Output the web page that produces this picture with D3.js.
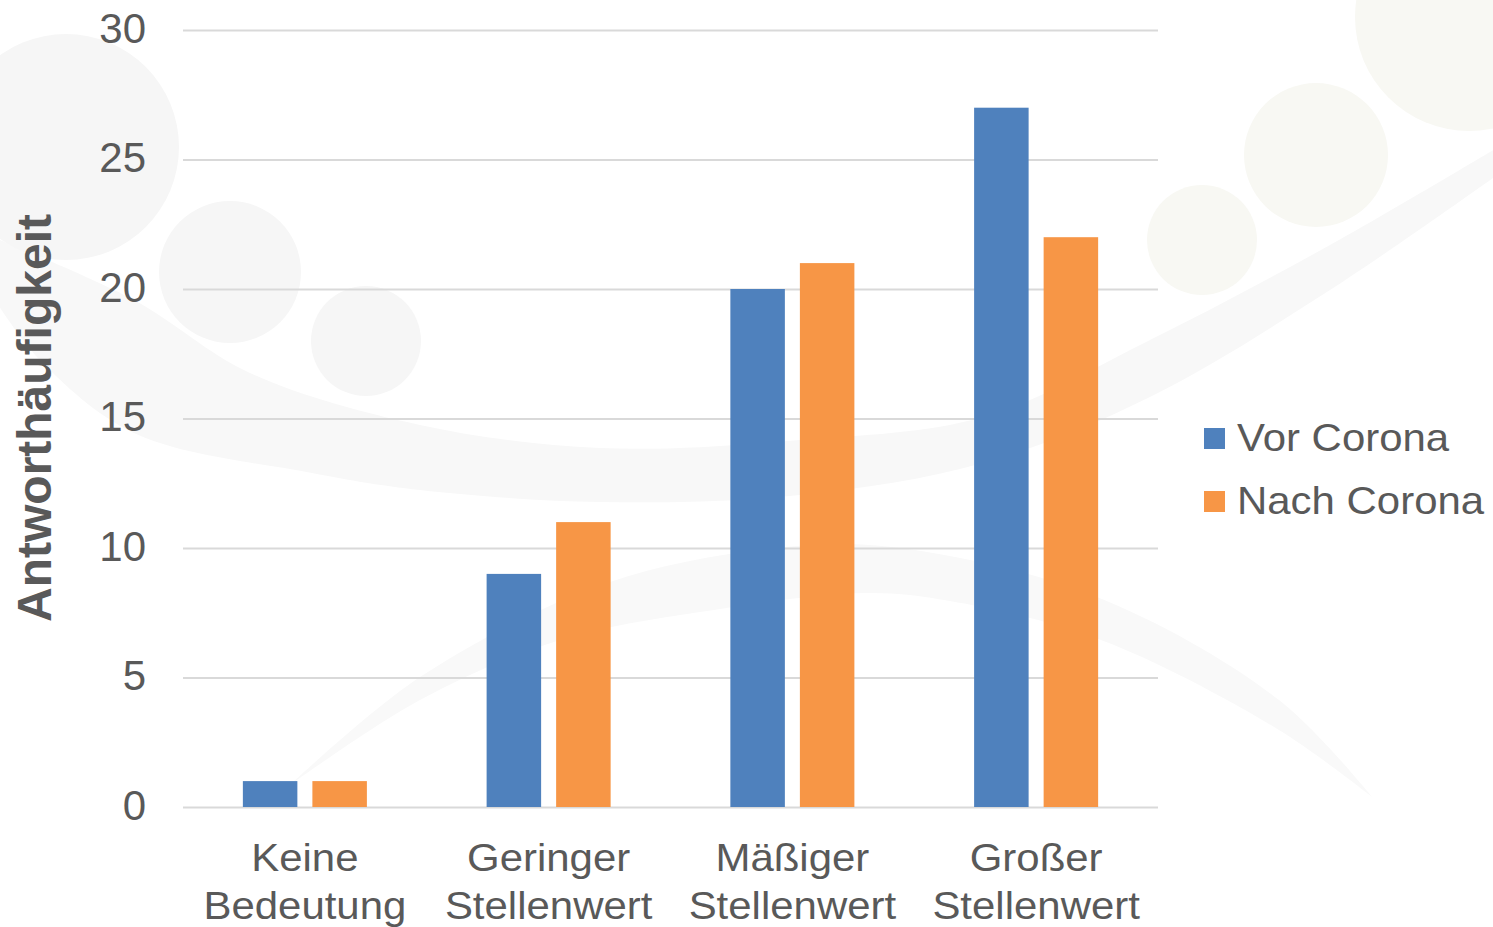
<!DOCTYPE html>
<html>
<head>
<meta charset="utf-8">
<script src="https://cdn.jsdelivr.net/npm/d3@7"></script>
<style>
  html, body { margin: 0; padding: 0; background: #ffffff; }
  svg { display: block; }
  text { font-family: "Liberation Sans", Arial, sans-serif; fill: #595959; }
</style>
</head>
<body>
<svg id="chart" width="1493" height="927"></svg>
<script>
// ---- Data ----
const categories = [["Keine", "Bedeutung"], ["Geringer", "Stellenwert"], ["Mäßiger", "Stellenwert"], ["Großer", "Stellenwert"]];
const seriesNames = ["Vor Corona", "Nach Corona"];
const vorCorona  = [1, 9, 20, 27];
const nachCorona = [1, 11, 21, 22];
const yTicks = [0, 5, 10, 15, 20, 25, 30];
const yTitle = "Antworthäufigkeit";
const colors = ["#4f81bd", "#f79646"];

// ---- Decorative background (watermark) ----
const decoCirclesGray = [[66, 147, 113], [230, 272, 71], [366, 341, 55]];
const decoCirclesGreen = [[1469, 17, 114], [1316, 155, 72], [1202, 240, 55]];
const swoosh1Upper = [[-5, 238], [134, 300], [250, 373], [420, 425], [600, 448], [800, 440], [983, 417], [1150, 340], [1330, 245], [1500, 146]];
const swoosh1Lower = [[1500, 173], [1330, 290], [1150, 397], [983, 463], [800, 495], [600, 502], [420, 490], [312, 473], [134, 433], [40, 360], [-5, 300]];
const swoosh2Outer = [[290, 785], [420, 677], [607, 583], [786, 547], [900, 548], [1097, 597], [1279, 700], [1372, 797]];
const swoosh2Inner = [[1372, 797], [1279, 730], [1101, 640], [950, 601], [866, 593], [700, 612], [560, 640], [420, 700], [290, 785]];

const svg = d3.select("#chart");
const W = 1493, H = 927;
const plot = { left: 183, right: 1158, top: 30, bottom: 807 };

const deco = svg.append("g").attr("class", "deco");
const curve = d3.line().curve(d3.curveCatmullRom.alpha(0.5));
deco.append("path")
  .attr("d", curve(swoosh1Upper) + "L" + curve(swoosh1Lower).slice(1) + "Z")
  .attr("fill", "#f8f8f8");
deco.append("path")
  .attr("d", curve(swoosh2Outer) + "L" + curve(swoosh2Inner).slice(1) + "Z")
  .attr("fill", "#f9f9f9");
deco.selectAll("circle.g").data(decoCirclesGray).join("circle")
  .attr("cx", d => d[0]).attr("cy", d => d[1]).attr("r", d => d[2])
  .attr("fill", "#f6f6f6");
deco.selectAll("circle.gr").data(decoCirclesGreen).join("circle")
  .attr("cx", d => d[0]).attr("cy", d => d[1]).attr("r", d => d[2])
  .attr("fill", "#f8f8f3");

// ---- Scales ----
const y = d3.scaleLinear().domain([0, 30]).range([plot.bottom, plot.top]);
const x0 = d3.scaleBand().domain(d3.range(categories.length)).range([plot.left, plot.right]).padding(0);
const step = x0.bandwidth();
const x1 = d3.scaleBand().domain(seriesNames)
  .range([step * 0.2456, step * 0.7544]).paddingInner(0.216).paddingOuter(0);

// ---- Grid + y axis ----
const yAxis = d3.axisLeft(y).tickValues(yTicks)
  .tickSize(-(plot.right - plot.left)).tickPadding(37);
const gy = svg.append("g").attr("transform", `translate(${plot.left},0)`).call(yAxis);
gy.select(".domain").remove();
gy.selectAll(".tick line").attr("stroke", "#d9d9d9").attr("stroke-width", 2);
gy.selectAll(".tick text")
  .style("font-family", '"Liberation Sans", Arial, sans-serif')
  .style("font-size", "42px").attr("fill", "#595959").attr("dy", "0.29em");

// ---- Bars ----
const rows = categories.map((c, i) => ({ i, values: [vorCorona[i], nachCorona[i]] }));
const groups = svg.append("g").selectAll("g").data(rows).join("g")
  .attr("transform", d => `translate(${x0(d.i)},0)`);
groups.selectAll("rect").data(d => d.values.map((v, k) => ({ k, v }))).join("rect")
  .attr("x", d => x1(seriesNames[d.k]))
  .attr("width", x1.bandwidth())
  .attr("y", d => y(d.v))
  .attr("height", d => y(0) - y(d.v))
  .attr("fill", d => colors[d.k]);

// ---- Category labels ----
const xl = svg.append("g");
categories.forEach((lines, i) => {
  const cx = x0(i) + step / 2;
  lines.forEach((ln, j) => {
    xl.append("text")
      .attr("transform", `translate(${cx},${871 + j * 48}) scale(1.09,1)`)
      .attr("text-anchor", "middle")
      .style("font-size", "38.5px")
      .text(ln);
  });
});

// ---- Y title ----
svg.append("text")
  .attr("transform", `translate(51,418) rotate(-90)`)
  .attr("text-anchor", "middle")
  .style("font-size", "48px").style("font-weight", "bold")
  .text(yTitle);

// ---- Legend ----
const lg = svg.append("g");
seriesNames.forEach((s, k) => {
  const yy = 428 + k * 63;
  lg.append("rect").attr("x", 1204).attr("y", yy).attr("width", 21).attr("height", 21).attr("fill", colors[k]);
  lg.append("text")
    .attr("transform", `translate(1237,${yy + 23}) scale(1.09,1)`)
    .style("font-size", "38.5px")
    .text(s);
});
</script>
</body>
</html>
